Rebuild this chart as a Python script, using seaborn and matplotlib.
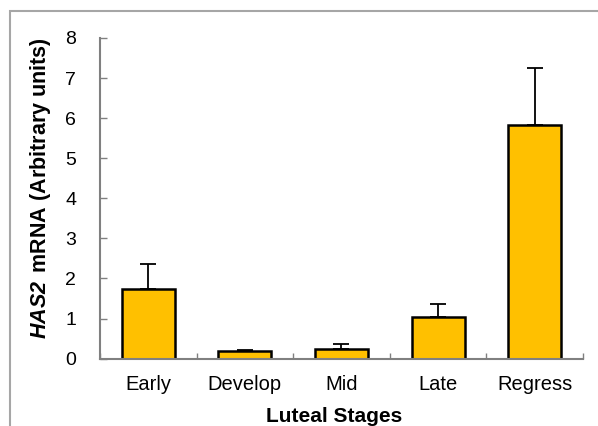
import matplotlib
matplotlib.use("Agg")
import matplotlib.pyplot as plt
import matplotlib.patches as patches
import seaborn as sns
import pandas as pd

# Data
stages = ["Early", "Develop", "Mid", "Late", "Regress"]
means = [1.75, 0.20, 0.23, 1.03, 5.82]
sems = [0.60, 0.02, 0.13, 0.33, 1.43]
y_ticks = [0, 1, 2, 3, 4, 5, 6, 7, 8]

sns.set_theme(style="white")
plt.rcParams['font.family'] = ['Liberation Sans', 'DejaVu Sans']
plt.rcParams['mathtext.fontset'] = 'custom'
plt.rcParams['mathtext.bfit'] = 'Liberation Sans:italic:bold'
plt.rcParams['mathtext.rm'] = 'Liberation Sans:bold'
plt.rcParams['text.color'] = 'black'
plt.rcParams['axes.labelcolor'] = 'black'
plt.rcParams['xtick.labelcolor'] = 'black'
plt.rcParams['ytick.labelcolor'] = 'black'

df = pd.DataFrame({"stage": stages, "mean": means, "sem": sems})

fig = plt.figure(figsize=(5.98, 4.26), dpi=100)
ax = fig.add_axes([0.167, 0.158, 0.808, 0.753])

sns.barplot(data=df, x="stage", y="mean", color="#FFC000", saturation=1,
            width=0.55, edgecolor="black", linewidth=1.8, errorbar=None, ax=ax)

# one-sided (upper) error bars
ax.errorbar(range(len(stages)), df["mean"], yerr=[[0] * len(stages), df["sem"]],
            fmt="none", ecolor="black", elinewidth=1.3, capsize=6, capthick=1.3, zorder=1)

ax.set_ylim(0, 8)
ax.set_xlim(-0.5, len(stages) - 0.5)
ax.set_yticks(y_ticks)
ax.set_yticklabels([str(t) for t in y_ticks], fontsize=14)
ax.tick_params(axis="x", labelsize=14.5, length=0, pad=12, labelcolor="black")
ax.tick_params(axis="y", direction="in", length=5, width=1, color="#808080", pad=17, left=True,
               labelcolor="black")

# minor ticks on x at category boundaries
ax.set_xticks([i - 0.5 for i in range(len(stages) + 1)], minor=True)
ax.tick_params(axis="x", which="minor", direction="in", length=4, width=1, color="#808080", bottom=True)

for side in ["top", "right"]:
    ax.spines[side].set_visible(False)
for side in ["left", "bottom"]:
    ax.spines[side].set_color("#808080")
    ax.spines[side].set_linewidth(1.5)

ax.set_xlabel("Luteal Stages", fontsize=15, fontweight="bold", labelpad=9, color="black")
ax.set_ylabel(r"$\mathbfit{HAS2}\,$ mRNA (Arbitrary units)", fontsize=15.5, fontweight="bold",
              labelpad=9, color="black")
ax.xaxis.label.set_x(0.485)
ax.yaxis.label.set_y(0.533)

# outer chart frame (top and left edges visible)
fig.patches.append(patches.Rectangle((9.5 / 598, -0.1), 1.2, (426 - 10.5) / 426 + 0.1,
                                     transform=fig.transFigure, fill=False,
                                     edgecolor="#A6A6A6", linewidth=1.5))

fig.savefig("out.png", dpi=100)
